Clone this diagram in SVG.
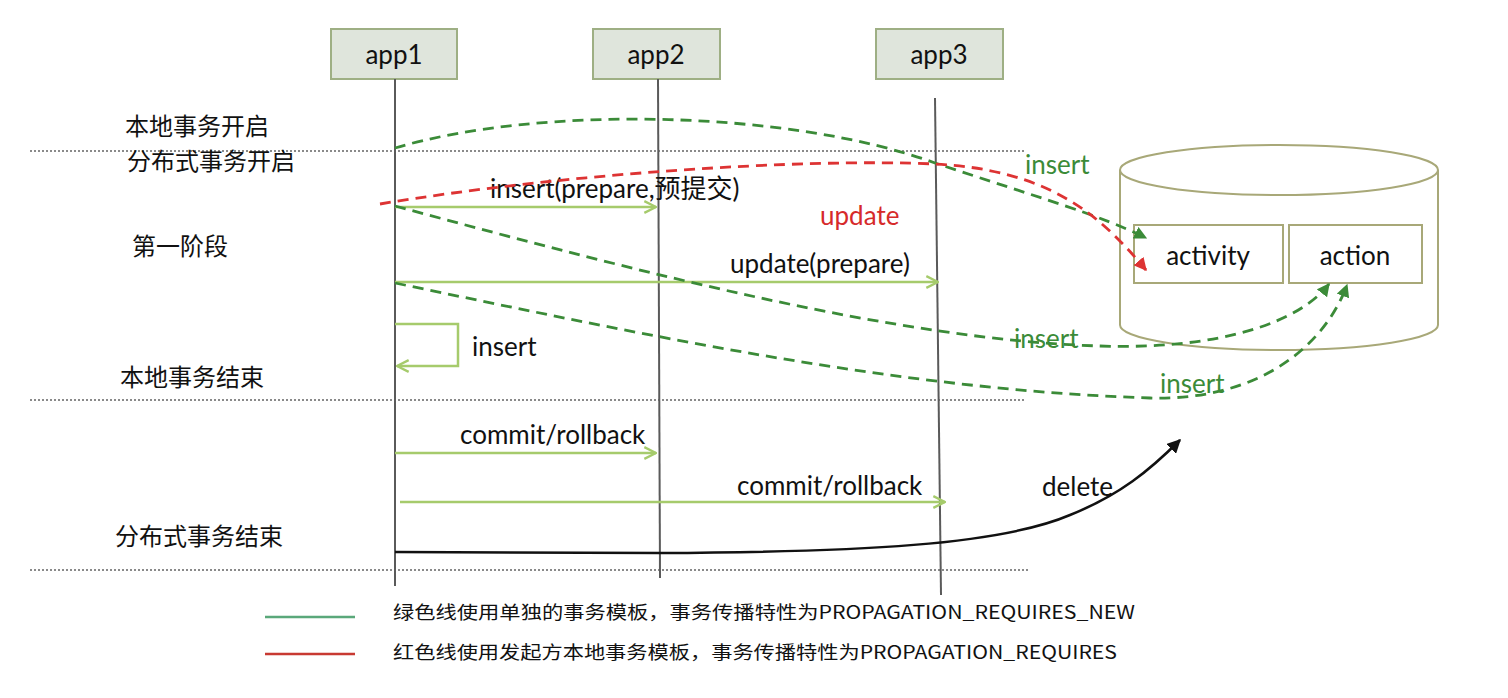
<svg xmlns="http://www.w3.org/2000/svg" width="1508" height="698" viewBox="0 0 1508 698">
<defs>
<style>
.lbl{font-family:"Lato","Liberation Sans","Noto Sans CJK SC",sans-serif;font-size:26px;fill:#111}
.cjk{font-family:"Noto Sans CJK SC","Noto Sans",sans-serif;font-size:24px;fill:#111}
.leg{font-family:"Noto Sans CJK SC","Noto Sans",sans-serif;font-size:18px;fill:#111}
.box{fill:#dfe5dc;stroke:#9eaf84;stroke-width:2}
.life{stroke:#5a5a5a;stroke-width:2;fill:none}
.dot{stroke:#8a8a8a;stroke-width:2;stroke-dasharray:2,2;fill:none}
.msg{stroke:#a6cb6c;stroke-width:2.5;fill:none;marker-end:url(#chev)}
.gd{stroke:#3b8b38;stroke-width:2.8;stroke-dasharray:11,7;fill:none}
.rd{stroke:#dd3333;stroke-width:2.8;stroke-dasharray:11,7;fill:none}
.db{stroke:#a8a878;stroke-width:2;fill:#fff}
</style>
<marker id="chev" viewBox="0 0 12 12" refX="11" refY="6" markerWidth="14" markerHeight="14" markerUnits="userSpaceOnUse" orient="auto">
<path d="M1,1 L11,6 L1,11" fill="none" stroke="#a6cb6c" stroke-width="2"/>
</marker>
<marker id="ga" viewBox="0 0 10 10" refX="9" refY="5" markerWidth="13" markerHeight="13" markerUnits="userSpaceOnUse" orient="auto">
<path d="M0,0 L10,5 L0,10 z" fill="#3b8b38"/>
</marker>
<marker id="ra" viewBox="0 0 10 10" refX="9" refY="5" markerWidth="13" markerHeight="13" markerUnits="userSpaceOnUse" orient="auto">
<path d="M0,0 L10,5 L0,10 z" fill="#dd3333"/>
</marker>
<marker id="ba" viewBox="0 0 10 10" refX="9" refY="5" markerWidth="14" markerHeight="14" markerUnits="userSpaceOnUse" orient="auto">
<path d="M0,0 L10,5 L0,10 z" fill="#111"/>
</marker>
</defs>
<rect width="1508" height="698" fill="#fff"/>

<g id="separators">
<line class="dot" x1="30" y1="151" x2="1026" y2="151"/>
<line class="dot" x1="30" y1="400" x2="1026" y2="400"/>
<line class="dot" x1="30" y1="570" x2="1028" y2="570"/>
</g>

<g id="phase-labels">
<text class="cjk" x="125" y="135">本地事务开启</text>
<text class="cjk" x="127" y="170">分布式事务开启</text>
<text class="cjk" x="132" y="255">第一阶段</text>
<text class="cjk" x="120" y="386">本地事务结束</text>
<text class="cjk" x="115" y="545">分布式事务结束</text>
</g>

<g id="app1">
<rect class="box" x="331" y="29" width="126" height="50"/>
<text class="lbl" x="394" y="64" text-anchor="middle" font-size="30">app1</text>
<line class="life" x1="395" y1="79" x2="395" y2="586"/>
</g>
<g id="app2">
<rect class="box" x="593" y="29" width="127" height="50"/>
<text class="lbl" x="656" y="64" text-anchor="middle" font-size="30">app2</text>
<line class="life" x1="658" y1="79" x2="660" y2="578"/>
</g>
<g id="app3">
<rect class="box" x="876" y="29" width="127" height="50"/>
<text class="lbl" x="939" y="64" text-anchor="middle" font-size="30">app3</text>
<line class="life" x1="935" y1="98" x2="941" y2="595"/>
</g>

<g id="database">
<path class="db" d="M1120,170 L1120,325 A159,25 0 0 0 1438,325 L1438,170"/>
<ellipse class="db" cx="1279" cy="170" rx="159" ry="25"/>
<g id="activity">
<rect x="1134" y="225" width="149" height="58" fill="#fff" stroke="#a8a878" stroke-width="2"/>
<text class="lbl" x="1208" y="265" text-anchor="middle" font-size="31">activity</text>
</g>
<g id="action">
<rect x="1289" y="225" width="133" height="58" fill="#fff" stroke="#a8a878" stroke-width="2"/>
<text class="lbl" x="1355" y="265" text-anchor="middle" font-size="31">action</text>
</g>
</g>

<g id="connectors">
<path class="msg" d="M395,207 L656,207"/>
<text class="lbl" x="490" y="198" font-size="27">insert(prepare,预提交)</text>
<path class="msg" d="M395,282 L938,282"/>
<text class="lbl" x="730" y="273" font-size="27">update(prepare)</text>
<path class="msg" d="M395,324 L458,324 L458,366 L397,366"/>
<text class="lbl" x="472" y="356" font-size="27">insert</text>
<path class="msg" d="M395,453 L656,453"/>
<text class="lbl" x="460" y="444" font-size="27">commit/rollback</text>
<path class="msg" d="M400,502 L945,502"/>
<text class="lbl" x="737" y="495" font-size="27">commit/rollback</text>

<path d="M395,552 L660,553 C860,552 1000,545 1070,515 C1120,495 1150,470 1180,440" fill="none" stroke="#111" stroke-width="2.5" marker-end="url(#ba)"/>
<text class="lbl" x="1042" y="496" font-size="27">delete</text>

<path class="gd" d="M395,148 C540,105 790,110 935,163 C1040,198 1100,215 1146,238" marker-end="url(#ga)"/>
<text class="lbl" x="1025" y="174" style="fill:#3b8b38" font-size="31">insert</text>
<path class="rd" d="M380,204 C560,174 800,158 935,164 C1050,170 1100,215 1146,270" marker-end="url(#ra)"/>
<text class="lbl" x="820" y="225" style="fill:#d62a2a" font-size="30">update</text>

<path class="gd" d="M395,206 C650,275 900,340 1100,346 C1220,350 1300,322 1329,284" marker-end="url(#ga)"/>
<text class="lbl" x="1014" y="348" style="fill:#3b8b38" font-size="31">insert</text>
<path class="gd" d="M395,283 C650,336 900,390 1150,398 C1260,401 1325,345 1347,285" marker-end="url(#ga)"/>
<text class="lbl" x="1160" y="393" style="fill:#3b8b38" font-size="31">insert</text>
</g>

<g id="legend">
<line x1="265" y1="617" x2="355" y2="617" stroke="#5aa87a" stroke-width="2.5"/>
<text class="leg" x="393" y="619" textLength="742" lengthAdjust="spacingAndGlyphs">绿色线使用单独的事务模板，事务传播特性为PROPAGATION_REQUIRES_NEW</text>
<line x1="265" y1="654" x2="355" y2="654" stroke="#c83a32" stroke-width="2.5"/>
<text class="leg" x="393" y="659" textLength="724" lengthAdjust="spacingAndGlyphs">红色线使用发起方本地事务模板，事务传播特性为PROPAGATION_REQUIRES</text>
</g>
</svg>
